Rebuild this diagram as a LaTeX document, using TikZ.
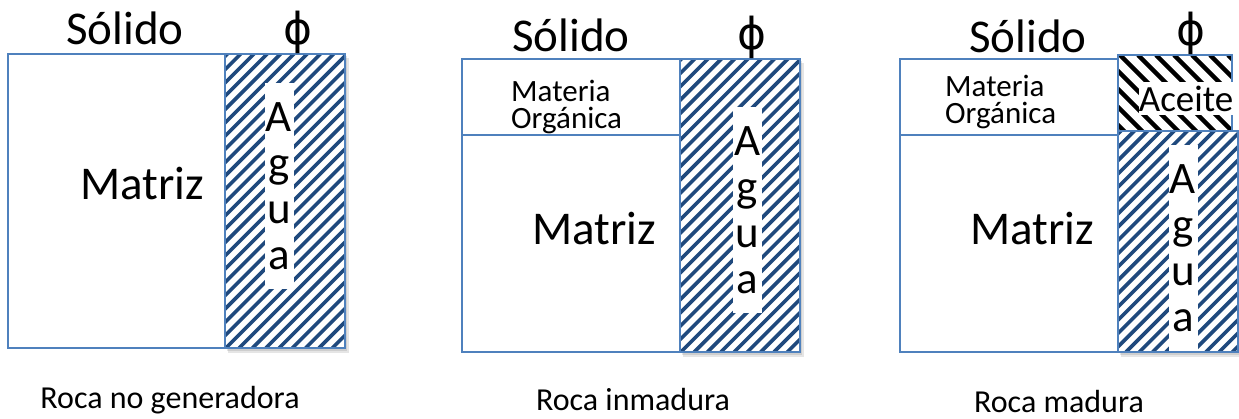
\documentclass[tikz,border=0pt]{standalone}
\usepackage{fontspec}
\setmainfont{Carlito}
\newfontfamily\simbolo{DejaVu Sans}
\usepackage{xcolor}
\usepackage{tikz}
\usetikzlibrary{positioning}
\definecolor{borde}{RGB}{79,129,189}
\definecolor{azulagua}{RGB}{31,73,125}

\begin{document}
\begin{tikzpicture}[x=1pt,y=-1pt,
        caja/.style={draw=borde,line width=2pt},
        rayaagua/.style={azulagua,line width=3.6pt},
        rayaaceite/.style={black,line width=4.3pt},
        sombra/.style={fill=black,opacity=0.10},
        grande/.style={font=\fontsize{47}{46}\selectfont,inner sep=0pt},
        letras/.style={font=\fontsize{45}{46}\selectfont,inner sep=0pt,align=center,fill=white,minimum width=29pt,minimum height=206pt},
        chico/.style={font=\fontsize{31}{27}\selectfont,inner sep=0pt,align=left},
        pie/.style={font=\fontsize{32}{32}\selectfont,inner sep=0pt},
        fi/.style={font=\simbolo\fontsize{44}{44}\selectfont,inner sep=0pt,anchor=south}]
    \useasboundingbox (0,0) rectangle (1239,419);

    % roca no generadora
    \fill[sombra] (228,58) rectangle (349,353);
    \fill[sombra] (227,56) rectangle (347,351);
    \fill[white] (225,54) rectangle (345,348);
    \begin{scope}
        \clip (225,54) rectangle (345,348);
        \foreach \k in {0,...,33}
            \draw[rayaagua] ({-80+\k*13.3},348) -- ++(320,-320);
    \end{scope}
    \draw[caja] (8,54) rectangle (225,348);
    \draw[caja] (225,54) rectangle (345,348);
    \node[grande,anchor=base] (solido1) at (125,45) {Sólido};
    \node[fi] (fi1) at (298,54) {ϕ};
    \node[grande,anchor=base] (matriz1) at (142,200) {Matriz};
    \node[letras] (agua1) at (279,186) {A\\g\\u\\a};
    \node[pie,anchor=base] (roca1) at (170,408) {Roca no generadora};

    % roca inmadura
    \fill[sombra] (683,63) rectangle (804,357);
    \fill[sombra] (682,61) rectangle (802,355);
    \fill[white] (680,59) rectangle (800,352);
    \begin{scope}
        \clip (680,59) rectangle (800,352);
        \foreach \k in {0,...,33}
            \draw[rayaagua] ({375+\k*13.3},352) -- ++(320,-320);
    \end{scope}
    \draw[caja] (462,59) rectangle (680,352);
    \draw[caja] (462,135) -- (680,135);
    \draw[caja] (680,59) rectangle (800,352);
    \node[grande,anchor=base] (solido2) at (571,52) {Sólido};
    \node[fi] (fi2) at (752,59) {ϕ};
    \node[chico,anchor=north west] (materia2) at (511,80) {Materia\\Orgánica};
    \node[grande,anchor=base] (matriz2) at (594,245) {Matriz};
    \node[letras] (agua2) at (747.5,210) {A\\g\\u\\a};
    \node[pie,anchor=base] (roca2) at (633,410) {Roca inmadura};

    % roca madura
    \fill[sombra] (1121,135) rectangle (1239,357);
    \fill[sombra] (1120,133) rectangle (1239,355);
    \fill[white] (1118,131) rectangle (1238,352);
    \fill[white] (1118,55) rectangle (1232,131);
    \begin{scope}
        \clip (1118,131) rectangle (1238,352);
        \foreach \k in {0,...,28}
            \draw[rayaagua] ({860+\k*13.3},352) -- ++(320,-320);
    \end{scope}
    \begin{scope}
        \clip (1118,55) rectangle (1232,131);
        \foreach \k in {0,...,12}
            \draw[rayaaceite] ({1030+\k*18},55) -- ++(120,120);
    \end{scope}
    \draw[caja] (900,59) rectangle (1118,352);
    \draw[caja] (900,135) -- (1118,135);
    \draw[caja] (1118,131) rectangle (1238,352);
    \draw[caja] (1118,55) rectangle (1232,131);
    \node[grande,anchor=base] (solido3) at (1028,53) {Sólido};
    \node[fi] (fi3) at (1191,55) {ϕ};
    \node[chico,anchor=north west] (materia3) at (945,75) {Materia\\Orgánica};
    \node[grande,anchor=base] (matriz3) at (1032,245) {Matriz};
    \node[font=\fontsize{37}{37}\selectfont,inner sep=0pt,fill=white,minimum width=93pt,minimum height=33pt] (aceite3) at (1186,98.5) {Aceite};
    \node[letras] (agua3) at (1183,248) {A\\g\\u\\a};
    \node[pie,anchor=base] (roca3) at (1059,412) {Roca madura};
\end{tikzpicture}
\end{document}
